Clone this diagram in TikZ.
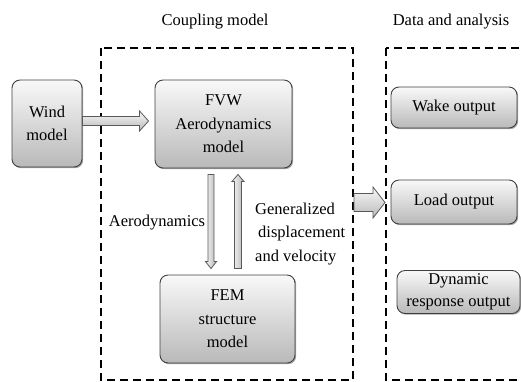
\documentclass[tikz,border=0pt]{standalone}
\usepackage{fontspec}
\setmainfont{Liberation Serif}
\usetikzlibrary{calc,shadows}
\tikzset{
  box/.style={draw=black!75, line width=0.9pt, rounded corners=8pt,
    top color=white!95!gray, bottom color=gray!55,
    drop shadow={shadow xshift=1.2pt, shadow yshift=-1.2pt, fill=black, opacity=0.35},
    align=center, inner sep=0pt, font=\fontsize{16.5}{23.5}\selectfont},
  lbl/.style={font=\fontsize{16.5}{23.5}\selectfont, inner sep=0pt},
  frame/.style={line width=1.8pt, dash pattern=on 8pt off 5pt},
  harr/.style={draw=black!65, line width=0.8pt, top color=white!95!gray, bottom color=gray!55},
  varr/.style={draw=black!65, line width=0.8pt, left color=white!95!gray, right color=gray!60},
}
\newcommand\blockarrow[6]{%
  \coordinate (ba-h) at ($(#2)!#5!(#1)$);
  \path[#6] ($(#1)!#3!90:(#2)$) -- ($(ba-h)!#3!90:(#2)$) -- ($(ba-h)!#4!90:(#2)$) -- (#2)
    -- ($(ba-h)!#4!-90:(#2)$) -- ($(ba-h)!#3!-90:(#2)$) -- ($(#1)!#3!-90:(#2)$) -- cycle;}
\begin{document}
\begin{tikzpicture}[x=1pt,y=-1pt]
\useasboundingbox (0,0) rectangle (521,381);
% titles
\node[lbl] (tc) at (215,22) {Coupling model};
\node[lbl] (td) at (451,22) {Data and analysis};
% frames
\coordinate (c1) at (101,48); \coordinate (c2) at (353,380);
\coordinate (d1) at (386,48); \coordinate (d2) at (530,380);
\draw[frame] (c1) rectangle (c2);
\draw[frame] (d1) rectangle (d2);
% boxes
\node[box, minimum width=70pt, minimum height=87pt] (wind) at (47,123.5) {Wind\\model};
\node[box, minimum width=137pt, minimum height=88pt] (fvw) at (223.5,124) {FVW\\Aerodynamics\\model};
\node[box, minimum width=135pt, minimum height=88pt] (fem) at (227.5,319) {FEM\\structure\\model};
\node[box, minimum width=126pt, minimum height=41pt] (wake) at (454,107.5) {Wake output};
\node[box, minimum width=126pt, minimum height=44pt] (load) at (454,202) {Load output};
\node[box, minimum width=123pt, minimum height=43pt, font=\fontsize{16.5}{22}\selectfont] (dyn) at (458.5,292) {Dynamic\\response output};
% labels
\node[lbl] (aero) at (157,223) {Aerodynamics};
\node[lbl, align=left, anchor=west] (gen) at (255,234) {Generalized\\\hspace{3pt}displacement\\and velocity};
% arrows
\coordinate (wa) at ($(wind.east)+(0,-2.5)$);
\coordinate (wb) at ($(fvw.west)+(-6,-3)$);
\blockarrow{wa}{wb}{4.5pt}{10pt}{9pt}{harr}
\coordinate (da) at ($(fvw.south)+(-12.5,6)$);
\coordinate (db) at ($(fem.north)+(-16.5,-6)$);
\blockarrow{da}{db}{3pt}{5.5pt}{7pt}{varr}
\coordinate (ua) at ($(fem.north)+(10.5,-6)$);
\coordinate (ub) at ($(fvw.south)+(14.5,6)$);
\blockarrow{ua}{ub}{3.5pt}{6pt}{7pt}{varr}
\coordinate (la) at ($(c2|-load.west)+(1,0.5)$);
\coordinate (lb) at ($(d1|-load.west)+(-1,0.5)$);
\blockarrow{la}{lb}{9pt}{15.5pt}{12pt}{harr}
\end{tikzpicture}
\end{document}
